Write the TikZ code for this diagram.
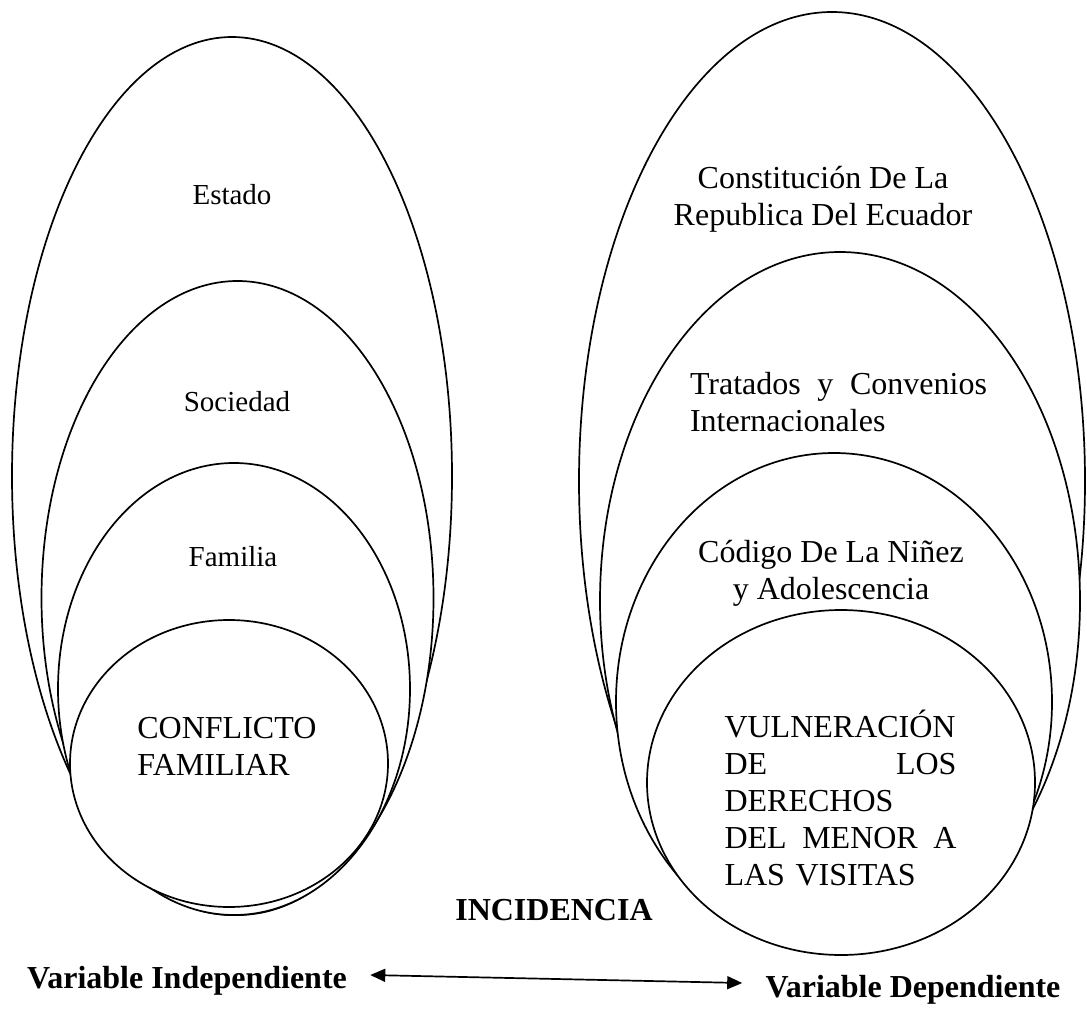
\documentclass[tikz,border=0pt]{standalone}
\usepackage{fontspec}
\setmainfont{Liberation Serif}
\usetikzlibrary{arrows.meta}

\tikzset{
  ring/.style={draw,fill=white,line width=0.85pt},
  small/.style={font=\fontsize{14.5}{17}\selectfont,inner sep=0pt},
  big/.style={font=\fontsize{16}{18.5}\selectfont,inner sep=0pt},
  bold/.style={font=\fontsize{16}{18.5}\selectfont\bfseries,inner sep=0pt},
  link/.style={line width=0.85pt,{Triangle[length=7.5pt,width=6.5pt]}-{Triangle[length=7.5pt,width=6.5pt]}}
}

\begin{document}
\begin{tikzpicture}[x=0.5pt,y=-0.5pt]
        \useasboundingbox (0,0) rectangle (1087,1011);
        %% Left ellipses
        \draw[ring] (232,476) ellipse [x radius=220, y radius=439];
        \draw[ring] (237.5,598) ellipse [x radius=196, y radius=317];
        \draw[ring] (234,689) ellipse [x radius=176, y radius=226];
        \draw[ring] (229,763.5) ellipse [x radius=159, y radius=143.5];
        \node[small] (estado) at (232,195) {Estado};
        \node[small] (sociedad) at (237,402) {Sociedad};
        \node[small] (familia) at (233,557) {Familia};
        \node[big,anchor=west,align=left] (conflicto) at (137,746.5) {CONFLICTO\\FAMILIAR};
        %% Right ellipses
        \draw[ring] (832,481) ellipse [x radius=253, y radius=469];
        \draw[ring] (840,601) ellipse [x radius=240, y radius=349];
        \draw[ring] (834,702) ellipse [x radius=218, y radius=249];
        \draw[ring] (841,782.5) ellipse [x radius=194, y radius=172.5];
        \node[big,align=center] (constitucion) at (823,199) {Constitución De La\\Republica Del Ecuador};
        \node[big,text width=148.5pt,align=left] (tratados) at (838.5,402) {Tratados\hfill y\hfill Convenios\\Internacionales};
        \node[big,align=center] (codigo) at (831,573) {Código De La Niñez\\y Adolescencia};
        \node[big,text width=116pt,align=left] (vulneracion) at (840.5,798)
          {VULNERACIÓN\\DE\hfill LOS\\DERECHOS\\DEL\hfill MENOR\hfill A\\LAS VISITAS};
        %% Variables
        \node[bold] (incidencia) at (554,910) {INCIDENCIA};
        \node[bold] (indep) at (187,981) {Variable Independiente};
        \node[bold] (dep) at (913,990) {Variable Dependiente};
        \draw[link] ([xshift=11.5pt,yshift=3pt]indep.east) -- ([xshift=-11.5pt,yshift=3.5pt]dep.west);
    \end{tikzpicture}
\end{document}
